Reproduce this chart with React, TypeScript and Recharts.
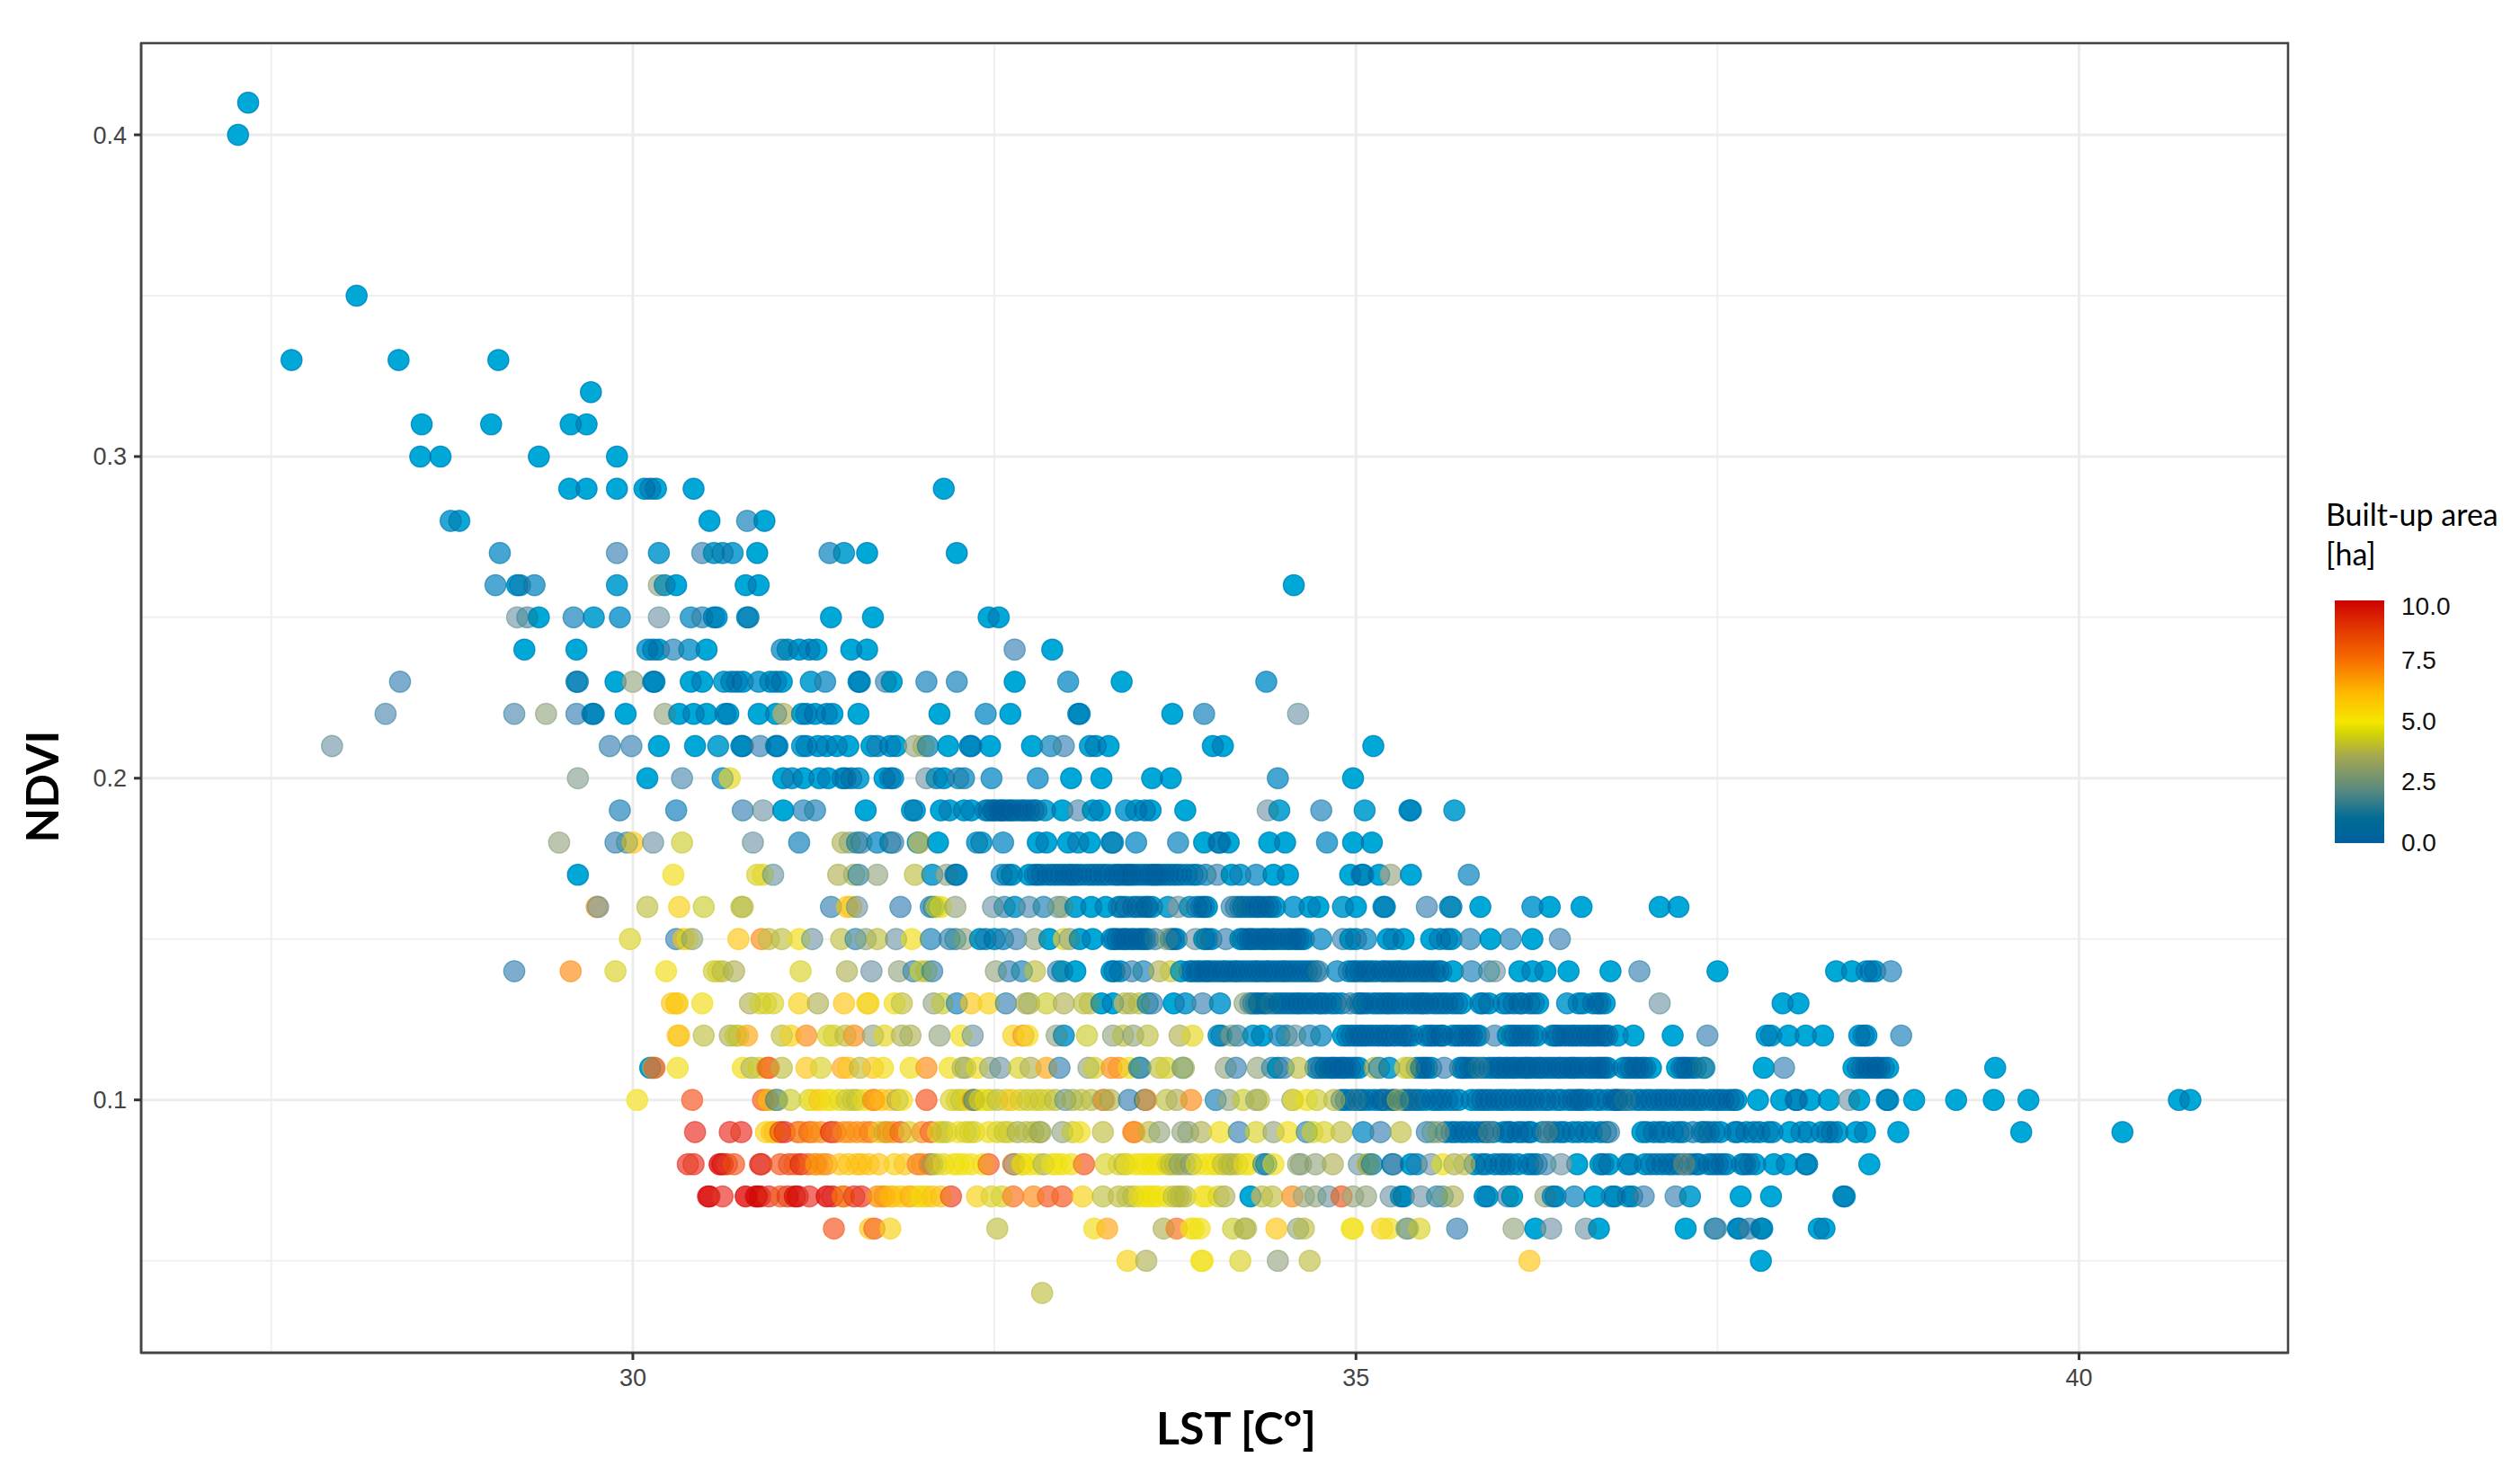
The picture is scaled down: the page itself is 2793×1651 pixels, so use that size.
import React from 'react'
import {
  CartesianGrid,
  ReferenceArea,
  Scatter,
  ScatterChart,
  XAxis,
  YAxis
} from 'recharts'

// each row is one NDVI level, entries are [LST, built-up area]
const ndvi041 = [[27.34, 0]]
const ndvi040 = [[27.27, 0]]
const ndvi035 = [[28.09, 0]]
const ndvi033 = [[27.64, 0], [28.38, 0], [29.07, 0]]
const ndvi032 = [[29.71, 0]]
const ndvi031 = [[28.54, 0], [29.02, 0], [29.57, 0], [29.68, 0]]
const ndvi030 = [[28.53, 0], [28.67, 0], [29.35, 0], [29.89, 0]]
const ndvi029 = [[29.56, 0], [29.68, 0], [29.89, 0], [30.08, 0], [30.12, 0], [30.16, 0], [30.42, 0], [32.15, 0]]
const ndvi028 = [[28.74, 0.3], [28.8, 0.1], [30.53, 0], [30.79, 0.7], [30.91, 0]]
const ndvi027 = [[29.08, 0.5], [29.89, 1], [30.18, 0.3], [30.48, 1], [30.56, 0.2], [30.62, 0.2], [30.69, 0.3], [30.86, 0], [31.36, 0.6], [31.46, 0.2], [31.62, 0], [32.24, 0]]
const ndvi026 = [[29.05, 0.6], [29.2, 0], [29.22, 0.2], [29.32, 0.5], [29.89, 0.2], [30.18, 2], [30.22, 0.2], [30.3, 0], [30.78, 0], [30.87, 0], [34.57, 0]]
const ndvi025 = [[29.2, 1.5], [29.27, 1.2], [29.35, 0], [29.59, 0.7], [29.73, 0.2], [29.91, 0.4], [30.18, 1.5], [30.4, 0.5], [30.48, 0.8], [30.56, 0], [30.58, 0], [30.79, 0], [30.8, 0.2], [31.37, 0], [31.66, 0], [32.46, 0], [32.53, 0]]
const ndvi024 = [[29.25, 0], [29.61, 0], [30.1, 0.3], [30.14, 0], [30.18, 0], [30.28, 0.8], [30.39, 0.4], [30.51, 0], [31.03, 0.5], [31.07, 0.1], [31.15, 0], [31.22, 0], [31.27, 0], [31.51, 0], [31.62, 0], [32.64, 1], [32.9, 0]]
const ndvi023 = [[28.39, 1], [29.61, 0.1], [29.62, 0.3], [29.88, 0], [30.0, 2], [30.14, 0], [30.15, 0], [30.4, 0], [30.48, 0], [30.63, 0.2], [30.68, 0], [30.72, 0], [30.76, 0], [30.87, 0.3], [30.95, 0], [30.99, 0], [31.03, 0], [31.23, 0.2], [31.33, 0.5], [31.56, 0], [31.57, 0], [31.75, 1], [31.79, 0], [32.03, 0.7], [32.24, 0.7], [32.64, 0], [33.01, 0.5], [33.38, 0], [34.38, 0.4]]
const ndvi022 = [[28.29, 1.2], [29.18, 1.2], [29.4, 2], [29.61, 1], [29.72, 0], [29.73, 0.1], [29.95, 0], [30.22, 2], [30.32, 0], [30.42, 0], [30.51, 0], [30.64, 0], [30.66, 0], [30.87, 0], [30.99, 0], [31.04, 2.5], [31.17, 0], [31.2, 0], [31.26, 0], [31.34, 0], [31.38, 0], [31.56, 0], [32.12, 0], [32.44, 0.5], [32.61, 0], [33.08, 0], [33.09, 0], [33.73, 0], [33.95, 0.7], [34.6, 1.5]]
const ndvi021 = [[27.92, 1.5], [29.84, 1], [29.99, 1], [30.18, 0], [30.43, 0], [30.59, 0.2], [30.75, 0], [30.76, 0], [30.88, 1], [30.99, 0], [31.0, 0], [31.17, 0.2], [31.2, 0], [31.28, 0], [31.34, 0], [31.41, 0], [31.49, 0], [31.65, 0], [31.69, 0.2], [31.78, 0], [31.82, 0], [31.95, 2], [32.01, 2.5], [32.04, 0.5], [32.18, 0], [32.33, 0], [32.34, 0], [32.47, 0], [32.76, 0], [32.89, 0.6], [32.98, 1], [33.16, 0.1], [33.2, 0], [33.29, 0], [34.01, 0], [34.08, 0], [35.12, 0]]
const ndvi020 = [[29.62, 1.8], [30.1, 0], [30.34, 1.2], [30.62, 0.5], [30.67, 4.5], [31.04, 0], [31.1, 0.2], [31.18, 0], [31.29, 0], [31.35, 0], [31.45, 0], [31.47, 0], [31.51, 0], [31.56, 0.2], [31.74, 0], [31.78, 0], [31.8, 0.1], [32.03, 1.5], [32.1, 0.3], [32.15, 0], [32.25, 0.5], [32.29, 0.5], [32.48, 0.5], [32.8, 0.5], [33.03, 0], [33.24, 0], [33.59, 0], [33.72, 0], [34.46, 0.5], [34.98, 0]]
const ndvi019 = [[29.91, 0.8], [30.3, 0.7], [30.76, 1], [30.9, 1.5], [31.04, 0], [31.18, 0.8], [31.26, 0.8], [31.61, 0], [31.93, 0.1], [31.95, 0.1], [32.13, 0], [32.19, 0.1], [32.29, 0], [32.34, 0], [32.44, 0.1], [32.5, 0], [32.56, 0], [32.63, 0], [32.71, 0], [32.77, 0], [32.85, 0.2], [32.97, 0], [33.08, 1.2], [33.18, 0], [33.23, 0], [33.41, 0.3], [33.48, 0], [33.54, 0], [33.58, 0], [33.82, 0], [34.39, 1.5], [34.47, 0.2], [34.76, 0.8], [35.06, 0.2], [35.37, 0], [35.38, 0], [35.68, 0.2]]
const ndvi018 = [[29.49, 2], [29.88, 1], [29.96, 1.2], [30.0, 6], [30.14, 1.5], [30.34, 3.5], [30.83, 1.5], [31.15, 0.7], [31.45, 2.5], [31.5, 2.2], [31.55, 0.5], [31.58, 1], [31.69, 0.5], [31.78, 0], [31.8, 1], [31.97, 0.2], [31.98, 3], [32.11, 0], [32.38, 0.3], [32.41, 0.2], [32.56, 0.5], [32.8, 0], [32.86, 0], [33.01, 0], [33.08, 0.1], [33.16, 0], [33.31, 0], [33.32, 0.2], [33.48, 0.5], [33.77, 0.6], [33.95, 0], [34.05, 0], [34.06, 0.1], [34.12, 0], [34.4, 0], [34.51, 0], [34.8, 0.5], [34.98, 0], [35.11, 0]]
const ndvi017 = [[29.62, 0], [30.28, 5], [30.86, 4], [30.9, 4.5], [30.97, 1.5], [31.42, 2.5], [31.53, 2.5], [31.56, 1], [31.69, 2], [31.95, 3], [32.07, 0.3], [32.17, 2], [32.23, 0], [32.24, 0.1], [32.55, 0.5], [32.59, 0.2], [32.62, 0], [32.78, 0], [32.87, 0], [32.96, 0], [33.04, 0], [33.14, 0], [33.23, 0], [33.33, 0], [33.4, 0], [33.46, 0], [33.52, 0], [33.58, 0], [33.64, 0], [33.73, 0], [33.83, 0], [33.96, 0.5], [34.04, 1], [34.14, 0], [34.2, 0.2], [34.31, 0.5], [34.43, 0], [34.53, 0], [34.96, 0], [35.04, 0], [35.05, 0], [35.16, 0], [35.24, 2], [35.38, 0], [35.78, 0.6]]
const ndvi016 = [[29.75, 7], [29.76, 1.5], [30.1, 3], [30.32, 5.5], [30.49, 3.5], [30.75, 3], [30.76, 3], [31.37, 1], [31.48, 6], [31.51, 6], [31.55, 1.5], [31.85, 1], [32.06, 0.8], [32.08, 1], [32.1, 4], [32.13, 5], [32.23, 2], [32.49, 1.5], [32.57, 1], [32.64, 0.3], [32.74, 1.2], [32.84, 0.8], [32.94, 1.5], [32.97, 2], [33.06, 0.1], [33.17, 0], [33.27, 0], [33.38, 0.2], [33.52, 0.2], [33.56, 0.1], [33.7, 0.2], [33.77, 1.5], [33.85, 0.3], [33.95, 0], [33.97, 0], [34.14, 1], [34.22, 0.3], [34.33, 0], [34.39, 0], [34.57, 0.3], [34.68, 0], [34.74, 0], [34.91, 0.2], [35.0, 0], [35.19, 0], [35.2, 0.1], [35.49, 1], [35.65, 0.3], [35.66, 0.2], [35.86, 0], [36.22, 0.3], [36.34, 0], [36.56, 0], [37.1, 0], [37.23, 0]]
const ndvi015 = [[29.98, 4], [30.3, 1], [30.35, 6], [30.38, 5], [30.41, 2], [30.73, 6], [30.89, 7], [30.94, 3], [31.03, 3], [31.15, 5], [31.24, 1.5], [31.44, 3], [31.54, 1], [31.61, 2], [31.69, 3], [31.82, 1.5], [31.93, 5], [32.06, 0.8], [32.19, 1], [32.23, 1], [32.29, 2], [32.4, 0], [32.44, 0.3], [32.5, 0.1], [32.56, 0.5], [32.65, 1], [32.78, 2], [32.88, 0], [32.98, 4], [33.02, 2], [33.09, 0], [33.18, 0], [33.31, 0], [33.33, 0], [33.42, 0], [33.5, 0], [33.54, 0], [33.61, 1], [33.69, 2], [33.76, 0], [33.89, 1.5], [33.95, 0], [34.1, 1], [34.2, 0], [34.29, 0], [34.39, 0], [34.47, 0], [34.58, 0], [34.62, 0], [34.76, 0.5], [34.91, 1], [34.96, 0], [35.0, 0], [35.07, 0.5], [35.22, 0], [35.26, 0], [35.33, 0], [35.52, 0], [35.58, 0], [35.63, 0], [35.66, 0], [35.79, 0.8], [35.93, 0], [36.07, 0.8], [36.22, 0], [36.41, 1]]
const ndvi014 = [[29.18, 1], [29.57, 7], [29.88, 4], [30.23, 5], [30.56, 3.5], [30.59, 4], [30.62, 3], [30.7, 2.5], [31.16, 4], [31.48, 2.5], [31.65, 1.5], [31.84, 2], [31.94, 1], [31.99, 4], [32.03, 3], [32.07, 1], [32.51, 2], [32.6, 1], [32.69, 0.8], [32.78, 3], [32.94, 1], [32.97, 0.2], [33.06, 0], [33.31, 0], [33.33, 0], [33.37, 0], [33.45, 1], [33.53, 0.8], [33.64, 2.5], [33.72, 3.5], [33.79, 0], [33.92, 0], [33.99, 0], [34.08, 0], [34.18, 0], [34.27, 0], [34.35, 0], [34.43, 0], [34.51, 0], [34.6, 0], [34.66, 0], [34.74, 1], [34.87, 0.5], [35.0, 0], [35.08, 0], [35.18, 0], [35.26, 0], [35.34, 0], [35.43, 0], [35.51, 0], [35.59, 0], [35.67, 0], [35.8, 0.8], [35.92, 1], [35.96, 1.5], [36.13, 0], [36.22, 0], [36.31, 0], [36.47, 0], [36.76, 0], [36.96, 1], [37.5, 0], [38.32, 0], [38.43, 0], [38.53, 0], [38.56, 0], [38.59, 0], [38.7, 0.8]]
const ndvi013 = [[30.27, 6], [30.3, 6], [30.31, 5.5], [30.48, 5], [30.81, 2.5], [30.88, 4], [30.92, 4], [30.97, 4], [31.15, 5.5], [31.28, 2.5], [31.46, 6], [31.62, 5.5], [31.63, 5.5], [31.81, 5], [31.86, 3], [32.08, 2], [32.14, 3.5], [32.24, 0.8], [32.34, 6], [32.46, 5.5], [32.58, 1], [32.72, 2.5], [32.74, 2.5], [32.86, 3.5], [32.98, 2.5], [33.12, 3], [33.16, 3], [33.24, 0], [33.32, 0], [33.4, 3], [33.44, 2.5], [33.5, 3], [33.56, 0.3], [33.59, 1], [33.74, 0], [33.82, 0.3], [33.94, 1], [34.06, 0.3], [34.23, 2], [34.29, 1], [34.33, 0], [34.41, 1], [34.47, 0], [34.56, 0], [34.64, 0], [34.74, 0], [34.83, 0], [34.96, 1], [35.05, 0], [35.18, 0], [35.26, 0], [35.36, 0], [35.47, 0], [35.57, 0], [35.67, 0], [35.86, 0], [36.02, 0], [36.13, 0], [36.2, 0], [36.26, 0], [36.46, 0.3], [36.54, 0], [36.57, 0], [36.64, 0], [36.72, 0], [37.1, 1.5], [37.95, 0], [38.06, 0]]
const ndvi012 = [[30.31, 6], [30.32, 6], [30.49, 3], [30.67, 2.5], [30.71, 3.5], [30.73, 3.5], [30.79, 6.5], [31.03, 3], [31.09, 5.5], [31.2, 7], [31.35, 4], [31.39, 4], [31.47, 3], [31.53, 7], [31.66, 2], [31.74, 4.5], [31.86, 2.5], [31.92, 2.5], [32.12, 2], [32.27, 5], [32.35, 1.5], [32.63, 5.5], [32.7, 7], [32.73, 5], [32.93, 2], [32.98, 0.3], [33.14, 3.5], [33.32, 2], [33.39, 3], [33.46, 2], [33.56, 3], [33.78, 2.5], [33.87, 4.5], [34.05, 0.2], [34.07, 0.2], [34.14, 2], [34.18, 1], [34.29, 0.3], [34.35, 0], [34.47, 0.5], [34.52, 0.5], [34.58, 1.5], [34.68, 0.8], [34.76, 0.5], [34.91, 0], [34.97, 0], [35.05, 0], [35.14, 0], [35.22, 0], [35.36, 0], [35.51, 0], [35.6, 0], [35.72, 0], [35.8, 0], [35.96, 1], [36.05, 0], [36.13, 0], [36.22, 0], [36.38, 0], [36.46, 0], [36.54, 0], [36.6, 0], [36.67, 0], [36.7, 0], [36.81, 0], [36.92, 0], [37.19, 0], [37.43, 1], [37.84, 0], [37.87, 0], [37.99, 0], [38.11, 0], [38.23, 0], [38.48, 0], [38.51, 0], [38.53, 0], [38.77, 0.8]]
const ndvi011 = [[30.12, 0], [30.14, 2.5], [30.15, 8], [30.31, 5], [30.76, 5], [30.82, 2.5], [30.87, 4], [30.93, 7.5], [30.94, 8], [31.03, 3], [31.2, 6], [31.3, 4], [31.45, 6.5], [31.49, 6], [31.57, 3], [31.66, 6], [31.73, 5], [31.92, 5], [32.03, 7], [32.19, 5], [32.28, 2.5], [32.3, 2.5], [32.38, 5], [32.47, 2], [32.54, 1.5], [32.67, 4], [32.75, 2.5], [32.86, 6.5], [32.95, 1], [33.15, 2], [33.19, 4], [33.31, 7], [33.36, 7], [33.43, 5], [33.5, 1], [33.51, 1], [33.64, 3], [33.69, 4], [33.8, 1.5], [33.81, 2.5], [34.1, 2], [34.17, 1], [34.32, 2], [34.42, 1], [34.46, 0], [34.5, 1], [34.6, 3], [34.74, 0.8], [34.79, 0], [34.86, 0], [34.93, 0], [34.99, 0], [35.13, 3], [35.16, 0.8], [35.23, 0.2], [35.34, 4], [35.37, 3], [35.45, 0], [35.49, 0], [35.61, 1], [35.76, 0], [35.85, 1], [36.0, 0], [36.1, 0], [36.2, 0], [36.31, 0], [36.42, 0], [36.52, 0], [36.63, 0], [36.7, 0], [36.74, 0], [36.88, 0], [36.93, 0], [36.98, 0], [37.04, 0], [37.25, 0], [37.29, 0], [37.4, 1], [37.41, 0.5], [37.82, 0], [37.96, 1], [38.44, 0], [38.5, 0], [38.55, 0], [38.62, 0], [38.68, 0], [39.42, 0]]
const ndvi010 = [[30.03, 5], [30.41, 8], [30.9, 8], [30.93, 7], [30.94, 6], [30.99, 1], [31.0, 2], [31.09, 3.5], [31.22, 4], [31.25, 5], [31.29, 6], [31.34, 5], [31.37, 5], [31.43, 4.5], [31.48, 3.5], [31.52, 3.5], [31.55, 3.5], [31.6, 5], [31.66, 7], [31.67, 7], [31.72, 6], [31.78, 6], [31.83, 2.5], [31.86, 5], [32.03, 8], [32.2, 4], [32.24, 4], [32.27, 3.5], [32.31, 4.5], [32.35, 7], [32.36, 1], [32.4, 5], [32.44, 5], [32.47, 4], [32.52, 3], [32.58, 4], [32.62, 6], [32.68, 4], [32.73, 3.5], [32.78, 4], [32.82, 3.5], [32.87, 4], [32.92, 3], [32.99, 1.5], [33.04, 2.5], [33.1, 3], [33.17, 3], [33.25, 2], [33.26, 7], [33.3, 2.5], [33.43, 1], [33.54, 0.5], [33.55, 7], [33.69, 3], [33.76, 2.5], [33.86, 7], [34.03, 0.8], [34.12, 2], [34.22, 3.5], [34.31, 2], [34.33, 3], [34.56, 2], [34.57, 5], [34.66, 5], [34.73, 3.5], [34.85, 3], [35.0, 1], [35.21, 0.5], [35.29, 3], [35.38, 0.5], [36.86, 1], [37.78, 0], [37.94, 0], [38.04, 0], [38.05, 0], [38.14, 0], [38.27, 0], [38.41, 1.5], [38.48, 0], [38.67, 0], [38.68, 0], [38.86, 0], [39.15, 0], [39.41, 0], [39.65, 0], [40.69, 0], [40.77, 0]]
const ndvi009 = [[30.43, 9], [30.67, 9], [30.75, 9], [30.92, 5.5], [30.96, 6], [30.98, 6], [31.02, 9], [31.05, 9], [31.14, 8], [31.17, 7], [31.22, 8], [31.25, 7], [31.3, 7], [31.37, 9.5], [31.4, 8], [31.46, 7], [31.5, 7], [31.55, 7], [31.6, 7], [31.64, 7.5], [31.7, 6], [31.74, 3], [31.76, 7], [31.8, 7], [31.85, 8], [31.91, 4], [32.0, 7], [32.06, 8], [32.11, 4.5], [32.14, 3.5], [32.17, 3.5], [32.25, 5], [32.3, 4], [32.33, 4], [32.36, 4], [32.46, 5], [32.52, 4], [32.57, 3.5], [32.6, 4], [32.66, 2.5], [32.72, 3], [32.77, 3], [32.81, 2.5], [32.82, 2.5], [32.97, 2], [33.04, 3.5], [33.09, 5], [33.25, 3], [33.46, 7.5], [33.47, 7], [33.57, 3], [33.64, 2], [33.8, 2], [33.84, 2], [33.93, 2.5], [34.06, 5], [34.19, 1], [34.31, 4], [34.43, 2], [34.53, 5], [34.66, 1], [34.7, 4], [34.78, 4], [34.9, 3], [35.05, 0.5], [35.17, 1], [35.31, 3], [35.49, 1], [35.53, 1.5], [35.57, 2], [35.92, 1.5], [36.32, 1.5], [36.75, 1], [37.33, 0.5], [37.41, 0.2], [38.0, 0], [38.08, 0], [38.13, 0], [38.46, 0], [38.52, 0], [38.75, 0], [39.6, 0], [40.3, 0]]
const ndvi008 = [[30.38, 9], [30.42, 9], [30.6, 10], [30.62, 10], [30.65, 9], [30.7, 8], [30.88, 9.5], [30.89, 9], [31.02, 8], [31.08, 8.5], [31.12, 8], [31.16, 9.5], [31.21, 8], [31.26, 7.5], [31.27, 6.5], [31.31, 7], [31.34, 7], [31.43, 6], [31.49, 6], [31.55, 6], [31.58, 6], [31.63, 6], [31.7, 6], [31.81, 5.5], [31.88, 6], [31.97, 7.5], [32.0, 7], [32.05, 7.5], [32.07, 2], [32.1, 4], [32.15, 4.5], [32.22, 5], [32.25, 5], [32.29, 5], [32.34, 5], [32.42, 5], [32.46, 8], [32.63, 8], [32.64, 2], [32.69, 4.5], [32.7, 5], [32.75, 5], [32.8, 5], [32.84, 2.5], [32.9, 5], [32.93, 5], [32.97, 5], [33.03, 5], [33.12, 8], [33.27, 4], [33.36, 4], [33.4, 3], [33.42, 5], [33.48, 5], [33.52, 5], [33.55, 5], [33.59, 5], [33.62, 5], [33.65, 5], [33.7, 4], [33.72, 3], [33.75, 3], [33.78, 2], [33.82, 2.5], [33.86, 2], [33.9, 5], [33.96, 5], [34.01, 5], [34.04, 5], [34.08, 3], [34.12, 3], [34.14, 3], [34.18, 3], [34.23, 5], [34.26, 5], [34.36, 1], [34.38, 0.5], [34.43, 5], [34.6, 2], [34.62, 2], [34.72, 2], [34.84, 2.5], [35.02, 1.5], [35.08, 3], [35.09, 2.5], [35.11, 0.5], [35.25, 0], [35.26, 1], [35.38, 0], [35.42, 0.3], [35.52, 1.5], [35.6, 5], [35.68, 2.5], [35.75, 3], [36.31, 1], [36.42, 1.5], [37.27, 2], [38.55, 0]]
const ndvi007 = [[30.52, 10], [30.53, 10], [30.62, 9], [30.78, 10], [30.85, 10], [30.86, 10], [30.88, 10], [30.94, 9], [31.02, 8], [31.07, 9], [31.12, 10], [31.14, 10], [31.22, 9], [31.34, 10], [31.38, 9.5], [31.45, 7.5], [31.46, 7.5], [31.53, 9], [31.58, 9], [31.69, 7], [31.72, 6.5], [31.74, 7], [31.78, 6], [31.8, 6], [31.85, 6], [31.9, 5.5], [31.92, 6.5], [31.97, 5.5], [32.0, 5], [32.03, 5.5], [32.07, 6], [32.13, 6], [32.2, 8.5], [32.38, 5.5], [32.48, 4], [32.55, 4], [32.63, 7.5], [32.77, 7], [32.87, 8], [32.97, 8], [33.11, 5.5], [33.25, 3], [33.36, 3], [33.42, 3], [33.46, 3], [33.5, 5], [33.54, 5], [33.57, 5], [33.6, 5], [33.63, 5], [33.69, 5], [33.74, 3], [33.77, 3], [33.79, 3], [33.82, 3], [33.94, 5], [33.97, 5], [34.05, 4], [34.09, 2.5], [34.27, 0], [34.35, 3], [34.42, 3], [34.56, 7], [34.64, 2], [34.72, 2], [34.81, 1.5], [34.9, 8], [34.98, 2], [35.07, 2], [35.24, 1.5], [35.31, 0.2], [35.33, 0], [35.45, 1.5], [35.56, 1], [35.6, 1.5], [35.67, 2.5], [35.89, 0], [35.91, 0], [36.05, 1], [36.08, 0], [36.31, 2], [36.36, 0.2], [36.38, 0], [36.51, 0.6], [36.65, 0], [36.77, 0.3], [36.79, 0], [36.88, 0.2], [36.91, 0], [36.99, 1], [37.21, 1], [37.31, 0.2], [37.66, 0], [37.87, 0], [38.37, 0], [38.38, 0]]
const ndvi006 = [[31.39, 8], [31.64, 6], [31.67, 8], [31.78, 5.5], [32.52, 3], [33.19, 5], [33.28, 6.5], [33.67, 2.5], [33.76, 7.5], [33.86, 5], [33.88, 5], [33.92, 5], [34.15, 3.5], [34.23, 2.5], [34.24, 3], [34.45, 6], [34.6, 2], [34.64, 3], [34.97, 5], [34.98, 5], [35.18, 5.5], [35.23, 5], [35.35, 1.5], [35.36, 2], [35.44, 4], [35.7, 1], [36.09, 2], [36.24, 0], [36.35, 1.5], [36.59, 1.5], [36.68, 0], [37.28, 0], [37.48, 0.3], [37.49, 1], [37.64, 0], [37.65, 0], [37.72, 1], [37.8, 0.3], [37.81, 0], [38.2, 0], [38.24, 0]]
const ndvi005 = [[33.42, 5.5], [33.55, 2.5], [33.93, 5], [33.94, 5], [34.2, 4], [34.46, 2], [34.68, 3], [36.2, 6], [37.8, 0]]
const ndvi004 = [[32.83, 3]]

// stacked dots with no built-up area, only LST: the solid dark runs of the dense rows
const stack019 = [32.46, 32.49, 32.53, 32.55, 32.59, 32.61, 32.66, 32.69, 32.74, 32.79]
const stack017 = [32.74, 32.8, 32.83, 32.9, 32.93, 32.99, 33.02, 33.07, 33.1, 33.17, 33.2, 33.26, 33.29, 33.35, 33.37, 33.42, 33.44, 33.49, 33.55, 33.6, 33.62, 33.67, 33.7, 33.76, 33.79, 33.87, 33.9]
const stack016 = [33.36, 33.41, 33.46, 33.49, 33.55, 33.59, 33.9, 33.93, 34.17, 34.2, 34.25, 34.28, 34.31, 34.36, 34.41, 34.44]
const stack015 = [33.35, 33.38, 33.4, 33.45, 33.47, 33.52, 33.56, 33.72, 33.74, 33.97, 34.0, 34.22, 34.25, 34.27, 34.32, 34.35, 34.37, 34.42, 34.44, 34.5, 34.53, 34.55, 34.6, 34.64]
const stack014 = [33.85, 33.87, 33.9, 33.95, 33.97, 34.02, 34.05, 34.1, 34.13, 34.16, 34.21, 34.24, 34.3, 34.32, 34.38, 34.4, 34.46, 34.49, 34.54, 34.57, 34.63, 34.69, 34.72, 34.95, 34.98, 35.03, 35.06, 35.11, 35.14, 35.2, 35.23, 35.29, 35.31, 35.37, 35.4, 35.46, 35.48, 35.54, 35.57]
const stack013 = [34.27, 34.31, 34.36, 34.38, 34.44, 34.5, 34.53, 34.59, 34.61, 34.67, 34.7, 34.76, 34.79, 34.86, 34.9, 35.01, 35.03, 35.08, 35.12, 35.15, 35.21, 35.23, 35.29, 35.32, 35.39, 35.42, 35.45, 35.5, 35.54, 35.6, 35.63, 35.7, 35.73, 35.88, 35.92, 36.05, 36.09, 36.15, 36.23, 36.67, 36.69]
const stack012 = [34.94, 35.0, 35.03, 35.08, 35.11, 35.17, 35.2, 35.25, 35.28, 35.32, 35.34, 35.39, 35.48, 35.53, 35.56, 35.59, 35.67, 35.7, 35.75, 35.78, 35.83, 35.85, 36.08, 36.1, 36.16, 36.19, 36.25, 36.36, 36.4, 36.43, 36.49, 36.51, 36.57, 36.62, 36.65, 36.72, 36.74]
const stack011 = [34.72, 34.76, 34.82, 34.84, 34.89, 34.91, 34.96, 35.02, 35.42, 35.47, 35.52, 35.72, 35.74, 35.79, 35.82, 35.88, 35.92, 35.95, 35.98, 36.03, 36.05, 36.08, 36.13, 36.16, 36.18, 36.23, 36.26, 36.28, 36.34, 36.37, 36.4, 36.45, 36.48, 36.5, 36.55, 36.58, 36.61, 36.66, 36.68, 36.72, 36.85, 36.9, 36.95, 37.0, 37.22, 37.27, 37.32, 37.35, 38.47, 38.53, 38.58, 38.6, 38.65]
const stack010 = [34.9, 34.93, 34.97, 35.02, 35.05, 35.09, 35.13, 35.17, 35.19, 35.25, 35.27, 35.33, 35.36, 35.41, 35.44, 35.48, 35.53, 35.56, 35.59, 35.63, 35.67, 35.71, 35.8, 35.84, 35.87, 35.9, 35.93, 35.97, 36.0, 36.03, 36.07, 36.1, 36.14, 36.17, 36.2, 36.23, 36.27, 36.31, 36.34, 36.39, 36.42, 36.47, 36.5, 36.53, 36.55, 36.57, 36.61, 36.66, 36.69, 36.74, 36.78, 36.8, 36.81, 36.84, 36.89, 36.94, 36.97, 37.01, 37.04, 37.08, 37.11, 37.14, 37.17, 37.21, 37.24, 37.27, 37.31, 37.34, 37.37, 37.4, 37.45, 37.48, 37.51, 37.54, 37.58, 37.61, 37.63]
const stack009 = [35.62, 35.66, 35.69, 35.73, 35.76, 35.8, 35.84, 35.88, 35.91, 35.95, 36.02, 36.05, 36.07, 36.12, 36.15, 36.19, 36.21, 36.29, 36.33, 36.37, 36.41, 36.44, 36.5, 36.54, 36.59, 36.63, 36.69, 36.73, 36.98, 37.01, 37.06, 37.1, 37.13, 37.19, 37.23, 37.26, 37.39, 37.44, 37.48, 37.52, 37.62, 37.64, 37.7, 37.75, 37.79, 37.85, 37.88, 38.22, 38.26, 38.29, 38.33]
const stack008 = [35.82, 35.87, 35.9, 35.96, 36.0, 36.03, 36.07, 36.12, 36.19, 36.22, 36.25, 36.53, 36.69, 36.71, 36.75, 36.88, 36.9, 37.0, 37.04, 37.08, 37.12, 37.16, 37.19, 37.23, 37.27, 37.31, 37.35, 37.37, 37.44, 37.47, 37.5, 37.53, 37.56, 37.67, 37.69, 37.72, 37.76, 37.89, 37.98, 38.11, 38.12]

const ndviLevels = [0.41, 0.4, 0.35, 0.33, 0.32, 0.31, 0.3, 0.29, 0.28, 0.27, 0.26, 0.25, 0.24, 0.23, 0.22, 0.21, 0.2, 0.19, 0.18, 0.17, 0.16, 0.15, 0.14, 0.13, 0.12, 0.11, 0.1, 0.09, 0.08, 0.07, 0.06, 0.05, 0.04]
const ndviRows = [ndvi041, ndvi040, ndvi035, ndvi033, ndvi032, ndvi031, ndvi030, ndvi029, ndvi028, ndvi027, ndvi026, ndvi025, ndvi024, ndvi023, ndvi022, ndvi021, ndvi020, ndvi019, ndvi018, ndvi017, ndvi016, ndvi015, ndvi014, ndvi013, ndvi012, ndvi011, ndvi010, ndvi009, ndvi008, ndvi007, ndvi006, ndvi005, ndvi004]
const stackLevels = [0.19, 0.17, 0.16, 0.15, 0.14, 0.13, 0.12, 0.11, 0.1, 0.09, 0.08]
const stackRows = [stack019, stack017, stack016, stack015, stack014, stack013, stack012, stack011, stack010, stack009, stack008]

const xTicks = [30, 35, 40]
const yTicks = [0.1, 0.2, 0.3, 0.4]
const xMinorTicks = [27.5, 32.5, 37.5]
const yMinorTicks = [0.05, 0.15, 0.25, 0.35]
const legendTicks = ['10.0', '7.5', '5.0', '2.5', '0.0']
const legendTickTops = [659, 719, 787, 854, 922]

const X_MIN = 26.6
const X_MAX = 41.445
const Y_MIN = 0.0214
const Y_MAX = 0.4285

// the stacked dark runs go first so the paler dots sit on top of them
const points = [
  ...stackRows.flatMap((row, i) =>
    row.map((lst) => ({ lst, ndvi: stackLevels[i], builtUp: 0 }))
  ),
  ...ndviRows.flatMap((row, i) =>
    row.map(([lst, builtUp]) => ({ lst, ndvi: ndviLevels[i], builtUp }))
  )
]

// colour of one isolated dot / colour that stacked dots saturate to
const lightStops = [
  [0, 0, 168, 222], [0.5, 70, 165, 215], [1, 125, 172, 212], [1.5, 165, 188, 200],
  [2, 188, 198, 175], [2.5, 205, 205, 145], [3.5, 222, 222, 118], [5, 246, 232, 100],
  [6, 255, 218, 100], [7, 255, 178, 100], [8, 255, 140, 105], [9, 255, 115, 110], [10, 242, 60, 60]
]
const darkStops = [
  [0, 0, 92, 155], [1, 10, 125, 135], [2, 120, 150, 100], [3, 175, 180, 50], [5, 240, 224, 0],
  [6.25, 255, 176, 0], [7.5, 248, 112, 0], [8.75, 226, 50, 0], [10, 204, 0, 0]
]
const TOP_ALPHA = 0.4

const lookup = (stops: number[][], v: number) => {
  let i = 0
  while (i < stops.length - 2 && v > stops[i + 1][0]) i++
  const a = stops[i]
  const b = stops[i + 1]
  const t = Math.min(1, Math.max(0, (v - a[0]) / (b[0] - a[0])))
  return [1, 2, 3].map((k) => a[k] + (b[k] - a[k]) * t)
}
const rgb = (c: number[]) =>
  `rgb(${c.map((n) => Math.round(Math.min(255, Math.max(0, n)))).join(',')})`

const BaseDot = (props: any) => {
  const dark = lookup(darkStops, props.payload.builtUp)
  const light = lookup(lightStops, props.payload.builtUp)
  const base = light.map((c, i) => (c - TOP_ALPHA * dark[i]) / (1 - TOP_ALPHA))
  return <circle cx={props.cx} cy={props.cy} r={12} fill={rgb(base)} />
}

const TopDot = (props: any) => {
  const dark = lookup(darkStops, props.payload.builtUp)
  return (
    <circle
      cx={props.cx}
      cy={props.cy}
      r={11.7}
      fill={rgb(dark)}
      fillOpacity={TOP_ALPHA}
      stroke={rgb(dark)}
      strokeOpacity={0.45}
      strokeWidth={1.4}
    />
  )
}

const tickStyle = { fontFamily: 'Liberation Sans', fontSize: 27, fill: '#444' }
const titleFont = { fontFamily: 'Lato', fontWeight: 700, fontSize: 50, color: '#000' }

const App = () => {
  return (
    <div
      style={{
        position: 'absolute',
        left: 0,
        top: 0,
        width: 2793,
        height: 1651,
        background: '#fff',
        overflow: 'hidden'
      }}>
      <ScatterChart
        width={2793}
        height={1651}
        margin={{ top: 48, right: 248, bottom: 86, left: 77 }}>
        <CartesianGrid
          stroke='#f0f0f0'
          strokeWidth={2}
          verticalValues={xMinorTicks}
          horizontalValues={yMinorTicks}
        />
        <CartesianGrid stroke='#ececec' strokeWidth={3} />
        <XAxis
          type='number'
          dataKey='lst'
          domain={[X_MIN, X_MAX]}
          ticks={xTicks}
          height={60}
          allowDataOverflow
          tick={tickStyle}
          tickSize={8}
          tickMargin={10}
          tickLine={{ stroke: '#333', strokeWidth: 3 }}
          axisLine={{ stroke: '#444', strokeWidth: 2.5 }}
        />
        <YAxis
          type='number'
          dataKey='ndvi'
          domain={[Y_MIN, Y_MAX]}
          ticks={yTicks}
          width={80}
          allowDataOverflow
          tick={tickStyle}
          tickSize={8}
          tickMargin={8}
          tickFormatter={(v: number) => v.toFixed(1)}
          tickLine={{ stroke: '#333', strokeWidth: 3 }}
          axisLine={{ stroke: '#444', strokeWidth: 2.5 }}
        />
        <Scatter data={points} shape={BaseDot} isAnimationActive={false} />
        <Scatter data={points} shape={TopDot} isAnimationActive={false} />
        <ReferenceArea
          x1={X_MIN}
          x2={X_MAX}
          y1={Y_MIN}
          y2={Y_MAX}
          fill='none'
          stroke='#444'
          strokeWidth={2.5}
        />
      </ScatterChart>
      <div
        style={{
          ...titleFont,
          position: 'absolute',
          left: 1375,
          top: 1558,
          transform: 'translateX(-50%)',
          whiteSpace: 'nowrap'
        }}>
        LST [C°]
      </div>
      <div
        style={{
          ...titleFont,
          position: 'absolute',
          left: 46,
          top: 875,
          transform: 'translate(-50%, -50%) rotate(-90deg)',
          whiteSpace: 'nowrap'
        }}>
        NDVI
      </div>
      <div
        style={{
          position: 'absolute',
          left: 2587,
          top: 550,
          fontFamily: 'Lato',
          fontSize: 34,
          lineHeight: '44px',
          color: '#000',
          whiteSpace: 'nowrap'
        }}>
        Built-up area
        <br />
        [ha]
      </div>
      <div
        style={{
          position: 'absolute',
          left: 2597,
          top: 668,
          width: 55,
          height: 270,
          background:
            'linear-gradient(to top, #00609e 0%, #006c96 10%, #5a8a80 22%, #a5a850 36%, #d8d800 46%, #f5e600 50%, #ffb800 62%, #f87000 75%, #e03000 90%, #cc0000 100%)'
        }}
      />
      {legendTicks.map((label, i) => (
        <div
          key={label}
          style={{
            position: 'absolute',
            left: 2671,
            top: legendTickTops[i],
            fontFamily: 'Liberation Sans',
            fontSize: 28,
            lineHeight: '32px',
            color: '#111'
          }}>
          {label}
        </div>
      ))}
    </div>
  )
}

export default App
